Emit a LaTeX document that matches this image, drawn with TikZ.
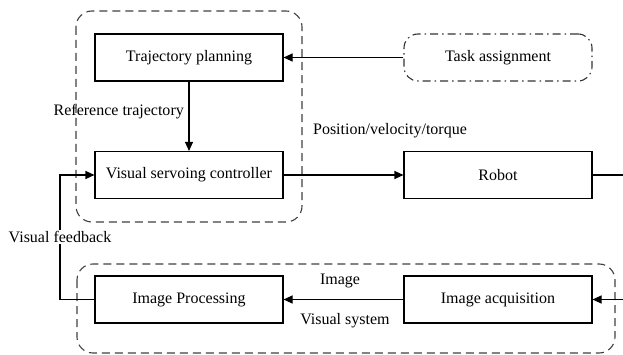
\documentclass[tikz,border=0pt]{standalone}
\usepackage{fontspec}
\setmainfont{Liberation Serif}
\usetikzlibrary{arrows.meta}
\begin{document}
\begin{tikzpicture}[x=1pt,y=-1pt,
  every node/.style={font=\fontsize{16}{19}\selectfont},
  block/.style={draw,line width=1.1pt,minimum width=188pt,minimum height=47pt,inner sep=0pt},
  taskbox/.style={draw,line width=1.1pt,rounded corners=14pt,minimum width=188pt,minimum height=47pt,inner sep=0pt,dash pattern=on 8pt off 4pt on 1.5pt off 4pt,draw=black!80},
  group/.style={draw=black!75,line width=1.1pt,rounded corners=16pt,dash pattern=on 8pt off 5pt},
  conn/.style={line width=1.1pt,-{Triangle[length=9pt,width=8pt]}},
  wire/.style={line width=1.1pt},
  lbl/.style={inner sep=1pt}]
\useasboundingbox (0,0) rectangle (623,355);
\draw[group] (76,11) rectangle (302,222);
\draw[group] (77,264) rectangle (615,353);
\node[block] (tp) at (189,57.5) {Trajectory planning};
\node[block] (vsc) at (189,175) {Visual servoing controller};
\node[taskbox] (ta) at (498,57.5) {Task assignment};
\node[block] (rob) at (498,175) {Robot};
\node[block] (ip) at (189,299.5) {Image Processing};
\node[block] (ia) at (498,299.5) {Image acquisition};
\coordinate (rout) at (623,175);
\coordinate (iin) at (623,299.5);
\coordinate (fb1) at (60,299.5);
\coordinate (fb2) at (60,175);
\draw[conn] (ta) -- (tp);
\draw[conn] (tp) -- (vsc);
\draw[conn] (vsc) -- (rob);
\draw[wire] (rob) -- (rout);
\draw[conn] (iin) -- (ia);
\draw[conn] (ia) -- (ip);
\draw[conn] (ip.west) -- (fb1) -- (fb2) -- (vsc.west);
\node[lbl,anchor=east] (reft) at (185,112) {Reference trajectory};
\node[lbl] (pvt) at (390,131) {Position/velocity/torque};
\node[lbl,fill=white] (vfb) at (60,237) {Visual feedback};
\node[lbl] (img) at (340,281) {Image};
\node[lbl] (vsys) at (345,321) {Visual system};
\end{tikzpicture}
\end{document}
